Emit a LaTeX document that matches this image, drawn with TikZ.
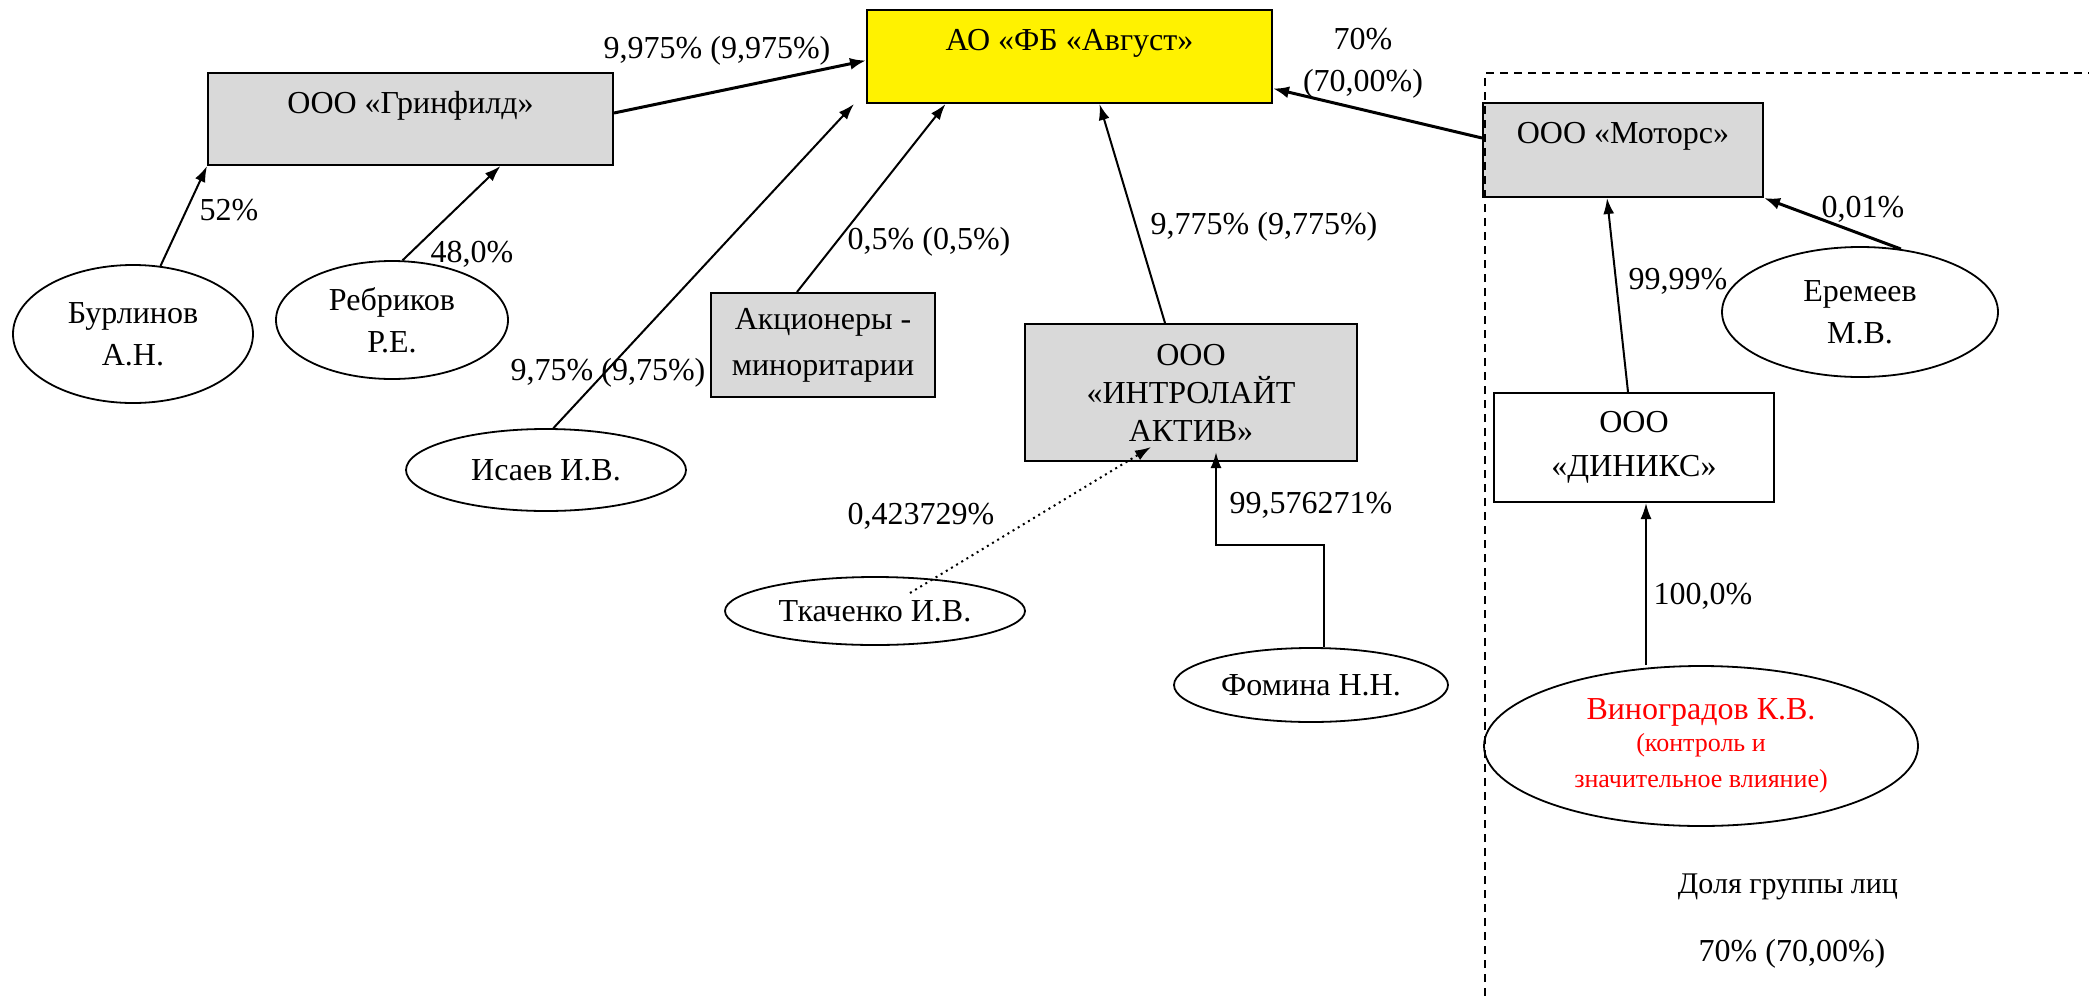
\documentclass[tikz,border=0pt]{standalone}
\usepackage{fontspec}
\setmainfont{Liberation Serif}
\usetikzlibrary{arrows.meta, shapes.geometric}
\usetikzlibrary{positioning}

\definecolor{boxgrey}{RGB}{217,217,217}

\tikzstyle{grey_box} = [
    rectangle,
    draw=black,
    fill=boxgrey,
    line width=1pt,
    align=center,
    inner sep=0pt
]
\tikzstyle{top_box} = [
    grey_box,
    text height=20pt, % baseline sits near the top edge
    text depth=26pt
]
\tikzstyle{person_node} = [
    ellipse,
    draw=black,
    line width=0.9pt,
    align=center,
    inner sep=0pt
]
\tikzstyle{pct} = [
    inner sep=0pt,
    align=center
]
\tikzstyle{link} = [
    -{Latex[length=8pt, width=5.5pt]},
    line width=1pt
]
\tikzstyle{bold_link} = [
    -{Latex[length=8pt, width=6pt]},
    line width=1.5pt
]
\tikzstyle{group_line} = [
    line width=0.75pt,
    dash pattern=on 4pt off 3pt
]

\begin{document}
\begin{tikzpicture}[
    x=0.5pt, y=-0.5pt,
    font=\fontsize{16}{21}\selectfont
]
\useasboundingbox (0,0) rectangle (2089,996);

% companies
\node [top_box, fill=yellow, minimum width=202.5pt, text depth=26.5pt] (avgust) at (1069.5,56.5) {АО «ФБ «Август»};
\node [top_box, minimum width=202.5pt] (grinfild) at (410.5,119) {ООО «Гринфилд»};
\node [top_box, minimum width=140pt, text depth=27pt] (motors) at (1623,150) {ООО «Моторс»};
\node [grey_box, minimum width=112pt, minimum height=52pt] (akcionery) at (823,345) {Акционеры -\\[2pt]миноритарии};
\node [grey_box, minimum width=166pt, minimum height=68.5pt] (intro) at (1191,392.5) {ООО\\[-2pt]«ИНТРОЛАЙТ\\[-2pt]АКТИВ»};
\node [grey_box, fill=white, minimum width=140pt, minimum height=54.5pt] (diniks) at (1634,447.5) {ООО\\[1pt]«ДИНИКС»};

% persons
\node [person_node, minimum width=120pt, minimum height=69pt] (burlinov) at (133,334) {Бурлинов\\А.Н.};
\node [person_node, minimum width=116pt, minimum height=59pt] (rebrikov) at (392,320) {Ребриков\\Р.Е.};
\node [person_node, minimum width=140pt, minimum height=41pt] (isaev) at (546,470) {Исаев И.В.};
\node [person_node, minimum width=150pt, minimum height=34pt] (tkachenko) at (875,611) {Ткаченко И.В.};
\node [person_node, minimum width=137pt, minimum height=37pt] (fomina) at (1311,685) {Фомина Н.Н.};
\node [person_node, minimum width=138pt, minimum height=65pt] (eremeev) at (1860,312) {Еремеев\\М.В.};
\node [person_node, minimum width=217pt, minimum height=80pt, text=red] (vinogradov) at (1701,746)
    {Виноградов К.В.\\[-5pt]{\fontsize{13}{15}\selectfont (контроль и}\\[-3pt]{\fontsize{13}{15}\selectfont значительное влияние)}};

% group of persons
\draw [group_line] (1485,996) -- (1485,73) -- (2089,73);

% shares
\draw [bold_link] ([yshift=3pt]grinfild.east) -- ([yshift=-2pt]avgust.west);
\draw [link] (burlinov.68) -- (grinfild.south west);
\draw [link] (rebrikov.80) -- ([xshift=45pt]grinfild.south);
\draw [link] (isaev.80) -- ([xshift=-6pt]avgust.south west);
\draw [link] ([xshift=-13pt]akcionery.north) -- ([xshift=-62pt]avgust.south);
\draw [link] ([xshift=-13pt]intro.north) -- ([xshift=15pt]avgust.south);
\draw [bold_link] ([yshift=6pt]motors.west) -- ([yshift=-16pt]avgust.east);
\draw [link] ([xshift=-3pt]diniks.north) -- ([xshift=-8pt]motors.south);
\draw [bold_link] (eremeev.57) -- (motors.south east);
\draw [link] ([xshift=6pt]diniks.south |- vinogradov.north) -- ([xshift=6pt]diniks.south);
\draw [link, line width=1.2pt] ([xshift=6.5pt]fomina.north) -- ++(0,-102) -| ([xshift=12.5pt,yshift=5pt]intro.south);
\draw [link, dotted] ([xshift=17.5pt,yshift=9pt]tkachenko.center) -- ([xshift=-20pt,yshift=7.5pt]intro.south);

% labels
\node [pct] (p_grinfild) at (717,51) {9,975\% (9,975\%)};
\node [pct] (p_motors) at (1363,63) {70\%\\[0pt](70,00\%)};
\node [pct] (p_burlinov) at (229,210) {52\%};
\node [pct] (p_rebrikov) at (472,254) {48,0\%};
\node [pct] (p_akcionery) at (929,242) {0,5\% (0,5\%)};
\node [pct] (p_intro) at (1264,227) {9,775\% (9,775\%)};
\node [pct] (p_isaev) at (608,373) {9,75\% (9,75\%)};
\node [pct] (p_tkachenko) at (921,516) {0,423729\%};
\node [pct] (p_fomina) at (1311,505) {99,576271\%};
\node [pct] (p_diniks) at (1678,281) {99,99\%};
\node [pct] (p_eremeev) at (1863,209) {0,01\%};
\node [pct] (p_vinogradov) at (1703,596) {100,0\%};
\node [pct, font=\fontsize{15}{18}\selectfont] (group_title) at (1788,887) {Доля группы лиц};
\node [pct] (group_share) at (1792,954) {70\% (70,00\%)};
\end{tikzpicture}
\end{document}
